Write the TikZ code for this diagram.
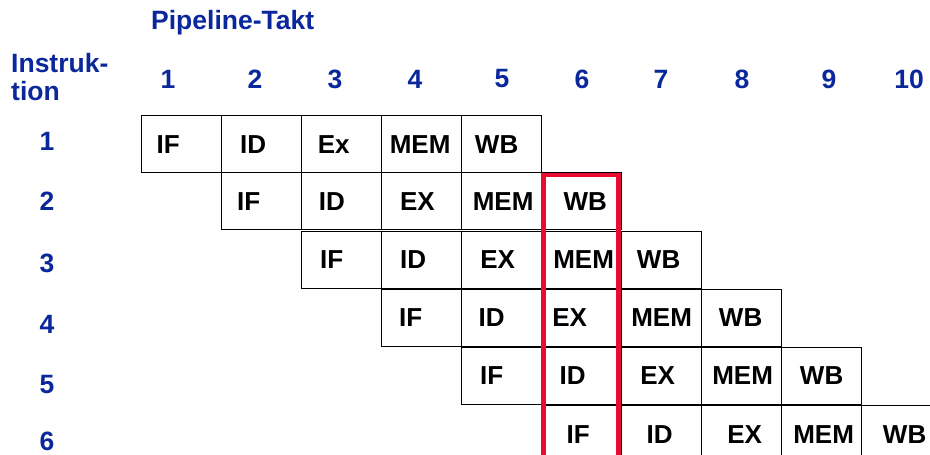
\documentclass[tikz,border=0pt]{standalone}
\usepackage{fontspec}
\setmainfont{Liberation Sans}
\definecolor{hdr}{RGB}{10,40,155}
\definecolor{hot}{RGB}{232,12,48}
\tikzset{
  cell/.style={draw=black, line width=1.3pt, minimum width=80pt, minimum height=57pt, inner sep=0pt, anchor=north west},
  lbl/.style={font=\fontsize{26}{30}\selectfont\bfseries, text=black, inner sep=0pt},
  htxt/.style={font=\fontsize{26.5}{30}\selectfont\bfseries, text=hdr, inner sep=0pt},
  hilite/.style={draw=hot, line width=4.5pt}
}
\begin{document}
\begin{tikzpicture}[x=1pt,y=-1pt]
\clip (0,0) rectangle (930,455);
\fill[white] (0,0) rectangle (930,455);

% headers
\node[htxt, anchor=base west] (takt) at (151,29.5) {Pipeline-Takt};
\node[htxt, anchor=base west] (instr1) at (11,72.5) {Instruk-};
\node[htxt, anchor=base west] (instr2) at (11,100) {tion};
\foreach \k/\x in {1/168,2/255,3/335,4/415,5/502,6/582,7/661,8/742,9/829,10/909}
  \node[htxt] (col\k) at (\x,79) {\k};
\foreach \r/\y in {1/141.7,2/201.7,3/263.3,4/324,5/384.3,6/441.5}
  \node[htxt] (row\r) at (47,\y) {\r};

% row 1
\node[cell, label={[lbl,xshift=-13.5pt]center:IF}]  (c11) at (141,115) {};
\node[cell, label={[lbl,xshift=-8.5pt]center:ID}]   (c12) at (221,115) {};
\node[cell, label={[lbl,xshift=-8pt]center:Ex}]     (c13) at (301,115) {};
\node[cell, label={[lbl,xshift=-1.5pt]center:MEM}]  (c14) at (381,115) {};
\node[cell, label={[lbl,xshift=-5pt]center:WB}]     (c15) at (461,115) {};
% row 2
\node[cell, label={[lbl,xshift=-13pt]center:IF}]    (c21) at (221,172) {};
\node[cell, label={[lbl,xshift=-9.7pt]center:ID}]   (c22) at (301,172) {};
\node[cell, label={[lbl,xshift=-4.3pt]center:EX}]   (c23) at (381,172) {};
\node[cell, label={[lbl,xshift=1.5pt]center:MEM}]   (c24) at (461,172) {};
\node[cell, label={[lbl,xshift=3.7pt]center:WB}]    (c25) at (541,172) {};
% row 3
\node[cell, label={[lbl,xshift=-10pt]center:IF}]    (c31) at (301,230.5) {};
\node[cell, label={[lbl,xshift=-8.5pt]center:ID}]   (c32) at (381,230.5) {};
\node[cell, label={[lbl,xshift=-4pt]center:EX}]     (c33) at (461,230.5) {};
\node[cell, label={[lbl,xshift=2pt]center:MEM}]     (c34) at (541,230.5) {};
\node[cell, label={[lbl,xshift=-3pt]center:WB}]     (c35) at (621,230.5) {};
% row 4
\node[cell, label={[lbl,xshift=-11pt]center:IF}]    (c41) at (381,288.5) {};
\node[cell, label={[lbl,xshift=-10pt]center:ID}]    (c42) at (461,288.5) {};
\node[cell, label={[lbl,xshift=-12pt]center:EX}]    (c43) at (541,288.5) {};
\node[cell, label={[lbl,xshift=0pt]center:MEM}]     (c44) at (621,288.5) {};
\node[cell, label={[lbl,xshift=-1pt]center:WB}]     (c45) at (701,288.5) {};
% row 5
\node[cell, label={[lbl,xshift=-10pt]center:IF}]    (c51) at (461,346.5) {};
\node[cell, label={[lbl,xshift=-9pt]center:ID}]     (c52) at (541,346.5) {};
\node[cell, label={[lbl,xshift=-4pt]center:EX}]     (c53) at (621,346.5) {};
\node[cell, label={[lbl,xshift=1pt]center:MEM}]     (c54) at (701,346.5) {};
\node[cell, label={[lbl,xshift=0pt]center:WB}]      (c55) at (781,346.5) {};
% row 6
\node[cell, label={[lbl,xshift=-3.5pt]center:IF}]   (c61) at (541,405) {};
\node[cell, label={[lbl,xshift=-2pt]center:ID}]     (c62) at (621,405) {};
\node[cell, label={[lbl,xshift=3pt]center:EX}]      (c63) at (701,405) {};
\node[cell, label={[lbl,xshift=2pt]center:MEM}]     (c64) at (781,405) {};
\node[cell, label={[lbl,xshift=3pt]center:WB}]      (c65) at (861,405) {};

% highlight of clock cycle 6
\coordinate (hlL) at (543.5,175);
\coordinate (hlR) at (618.3,175);
\draw[hilite] (hlL |- 0,500) -- (hlL) -- (hlR) -- (hlR |- 0,500);
\end{tikzpicture}
\end{document}
